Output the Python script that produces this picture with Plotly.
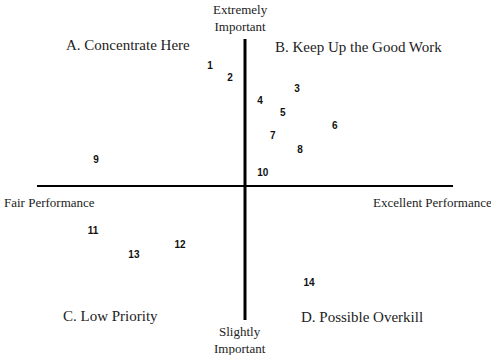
import plotly.graph_objects as go

# Data: attribute number, performance (x) and importance (y), centered at the cross
labels = ["1", "2", "3", "4", "5", "6", "7", "8", "9", "10", "11", "12", "13", "14"]
performance = [-0.84, -0.36, 1.25, 0.36, 0.91, 2.16, 0.67, 1.32, -3.58, 0.43, -3.65, -1.56, -2.67, 1.54]
importance = [4.08, 3.67, 3.27, 2.86, 2.48, 2.04, 1.67, 1.22, 0.88, 0.44, -1.56, -2.01, -2.38, -3.30]

W, H = 491, 355
fig = go.Figure()

# axes lines
fig.add_trace(go.Scatter(x=[-5.0, 5.0], y=[0, 0], mode="lines",
                         line=dict(color="black", width=2), hoverinfo="skip", showlegend=False))
fig.add_trace(go.Scatter(x=[0, 0], y=[-4.56, 5.0], mode="lines",
                         line=dict(color="black", width=3), hoverinfo="skip", showlegend=False))

fig.add_trace(go.Scatter(x=performance, y=importance, mode="text",
                         text=["<b>%s</b>" % s for s in labels],
                         textfont=dict(family="Liberation Sans", size=10, color="#111"),
                         textposition="middle center", showlegend=False))

serif = dict(family="Liberation Serif", size=15, color="#222")
serif_s = dict(family="Liberation Serif", size=13, color="#222")

def ann(text, px, py, font, xanchor="center"):
    fig.add_annotation(text=text, x=px / W, y=1 - py / H, xref="paper", yref="paper",
                       showarrow=False, font=font, xanchor=xanchor, yanchor="middle")

ann("Extremely<br>Important", 240, 18, serif_s)
ann("Slightly<br>Important", 240, 340, serif_s)
ann("A. Concentrate Here", 128, 45, serif)
ann("B. Keep Up the Good Work", 358, 47, serif)
ann("C. Low Priority", 110, 316, serif)
ann("D. Possible Overkill", 362, 317, serif)
ann("Fair Performance", 2, 202, serif_s, xanchor="left")
ann("Excellent Performance", 371, 202, serif_s, xanchor="left")

fig.update_layout(
    width=W, height=H, margin=dict(l=0, r=0, t=0, b=0),
    paper_bgcolor="white", plot_bgcolor="white",
    xaxis=dict(range=[-5.889, 5.913], visible=False, fixedrange=True),
    yaxis=dict(range=[-5.748, 6.327], visible=False, fixedrange=True),
    showlegend=False,
)
fig.write_html("out.html")
